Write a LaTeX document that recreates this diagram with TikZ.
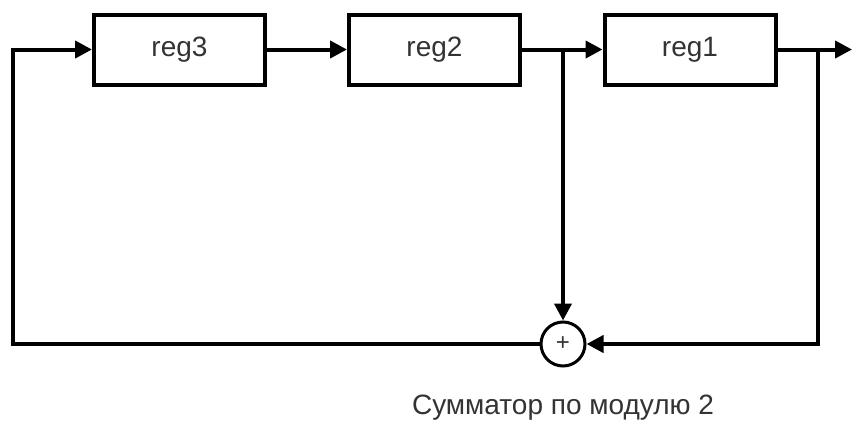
\documentclass[tikz,border=0pt]{standalone}
\usepackage{fontspec}
\setmainfont{Liberation Sans}
\usetikzlibrary{arrows.meta}

\tikzset{
  regbox/.style={draw,line width=4pt,minimum width=171pt,minimum height=70pt,font=\fontsize{28}{32}\selectfont,text=black!80},
  wire/.style={line width=4pt},
  arr/.style={wire,-{Triangle[length=17pt,width=17pt]}}
}

\begin{document}
\begin{tikzpicture}[x=1pt,y=-1pt]
  \useasboundingbox (0,0) rectangle (852,423);
  \node[regbox] (reg3) at (179.5,49.5) {reg3};
  \node[regbox] (reg2) at (434.5,49.5) {reg2};
  \node[regbox] (reg1) at (690,49.5) {reg1};
  \node[draw,circle,line width=3pt,minimum size=44pt,inner sep=0pt,font=\fontsize{24}{24}\selectfont,text=black!80] (sum) at (563,344) {+};
  \node[font=\fontsize{28}{32}\selectfont,text=black!80] (lbl) at (563,408) {Сумматор по модулю 2};

  \coordinate (j2) at (563,49.5);
  \coordinate (j1) at (818,49.5);
  \coordinate (out) at (852,49.5);
  \coordinate (corner) at (13,344);

  \draw[arr] (reg3.east) -- (reg2.west);
  \draw[arr] (reg2.east) -- (reg1.west);
  \draw[arr] (reg1.east) -- (out);
  \draw[arr] (j2) -- (sum.north);
  \draw[arr] (j1) |- (sum.east);
  \draw[arr] (sum.west) -- (corner) |- (reg3.west);
\end{tikzpicture}
\end{document}
